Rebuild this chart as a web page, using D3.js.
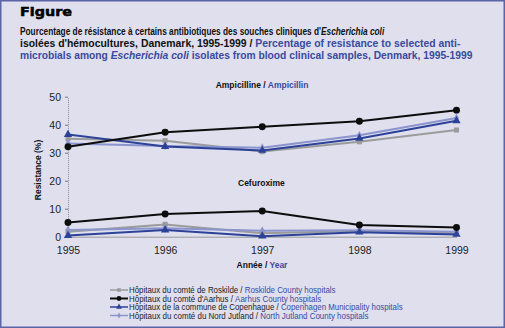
<!DOCTYPE html>
<html><head><meta charset="utf-8">
<script src="https://cdn.jsdelivr.net/npm/d3@7"></script>
<style>
html,body{margin:0;padding:0;background:#dfdfee;}
svg{display:block;}
text{font-family:"Liberation Sans",Arial,sans-serif;}
</style></head>
<body>
<svg id="c" width="505" height="328"></svg>
<script>
const years = [1995, 1996, 1997, 1998, 1999];
const yTicks = [0, 10, 20, 30, 40, 50];
const seriesNamesFr = ["Hôpitaux du comté de Roskilde / ", "Hôpitaux du comté d'Aarhus / ", "Hôpitaux de la commune de Copenhague / ", "Hôpitaux du comté du Nord Jutland / "];
const seriesNamesEn = ["Roskilde County hospitals", "Aarhus County hospitals", "Copenhagen Municipality hospitals", "North Jutland County hospitals"];
const ampRoskilde = [35.0, 34.3, 30.4, 33.9, 38.1];
const ampAarhus = [32.1, 37.3, 39.3, 41.2, 45.2];
const ampCopenhagen = [36.5, 32.2, 30.8, 35.1, 41.4];
const ampNordJutland = [33.3, 32.4, 31.8, 36.2, 42.4];
const cefRoskilde = [1.8, 4.4, 1.2, 2.0, 1.2];
const cefAarhus = [5.1, 8.1, 9.2, 4.2, 3.3];
const cefCopenhagen = [0.4, 2.4, 0.2, 1.6, 0.8];
const cefNordJutland = [2.4, 3.0, 2.1, 2.3, 1.8];

const blueText = "#3a4a9e";
const styles = [
  {color:"#9b9b9b", sym:d3.symbolSquare, size:26, width:2},
  {color:"#0d0d0d", sym:d3.symbolCircle, size:38, width:2},
  {color:"#2c4299", sym:d3.symbolTriangle, size:30, width:2},
  {color:"#8b94cc", sym:d3.symbolDiamond, size:22, width:2}
];

const svg = d3.select("#c");
svg.append("rect").attr("x",0.75).attr("y",0.75).attr("width",503.5).attr("height",326.5)
  .attr("fill","#dfdfee").attr("stroke","#5b64a6").attr("stroke-width",1.5);

function partsText(x0, y0, parts, style){
  const g = svg.append("g");
  const t = g.append("text").attr("x",0).attr("y",0);
  Object.entries(style).forEach(([k,v])=>t.style(k,v));
  parts.forEach(p=>{
    const ts = t.append("tspan").text(p.text);
    if(p.fill) ts.attr("fill",p.fill);
    if(p.italic) ts.style("font-style","italic");
  });
  return {g, w:t.node().getComputedTextLength(), x0, y0};
}
function fit(o, width){ o.g.attr("transform",`translate(${o.x0},${o.y0}) scale(${width/o.w},1)`); }

const titleStyle = {"font-weight":"bold","font-size":"11.5px","fill":"#111"};
fit(partsText(20,16,[{text:"Figure"}],{"font-family":"'DejaVu Sans',sans-serif","font-weight":"900","font-size":"12px","fill":"#000","stroke":"#000","stroke-width":"0.5"}), 52);
fit(partsText(20,35,[{text:"Pourcentage de résistance à certains antibiotiques des souches cliniques d'"},{text:"Escherichia coli",italic:true}],titleStyle), 365);
fit(partsText(20,47,[{text:"isolées d'hémocultures, Danemark, 1995-1999 / "},{text:"Percentage of resistance to selected anti-",fill:blueText}],titleStyle), 441);
fit(partsText(20,59,[{text:"microbials among ",fill:blueText},{text:"Escherichia coli",italic:true,fill:blueText},{text:" isolates from blood clinical samples, Denmark, 1995-1999",fill:blueText}],titleStyle), 453);

const x = d3.scaleLinear().domain([1995,1999]).range([68,456.5]);
const y = d3.scaleLinear().domain([0,50]).range([236.7,96.7]);

const ya = svg.append("g").attr("transform","translate(68,0)")
  .call(d3.axisLeft(y).tickValues(yTicks).tickSize(3).tickSizeOuter(0).tickPadding(4));
ya.select(".domain").attr("stroke","#8a8a9a").attr("stroke-dasharray","1,1");
ya.selectAll(".tick line").attr("stroke","#777");
ya.selectAll(".tick text").style("font-size","10.5px").attr("fill","#222").attr("dy","0.35em");

const xa = svg.append("g").attr("transform","translate(0,236.7)")
  .call(d3.axisBottom(x).tickValues(years).tickFormat(d3.format("d")).tickSize(0).tickSizeOuter(0).tickPadding(10));
xa.select(".domain").attr("stroke","#999").attr("stroke-width",1);
xa.selectAll(".tick text").style("font-size","10.5px").attr("fill","#222");

svg.append("text").attr("transform","translate(41,170) rotate(-90)").attr("text-anchor","middle")
  .style("font-weight","bold").style("font-size","8.5px").attr("fill","#111").text("Resistance (%)");
const xt = svg.append("text").attr("x",262).attr("y",268).attr("text-anchor","middle")
  .style("font-weight","bold").style("font-size","8.5px").attr("fill","#111");
xt.append("tspan").text("Année / ");
xt.append("tspan").attr("fill",blueText).text("Year");

const at = svg.append("text").attr("x",262).attr("y",88).attr("text-anchor","middle")
  .style("font-weight","bold").style("font-size","8.5px").attr("fill","#111");
at.append("tspan").text("Ampicilline / ");
at.append("tspan").attr("fill",blueText).text("Ampicillin");
svg.append("text").attr("x",238).attr("y",186)
  .style("font-weight","bold").style("font-size","8.5px").attr("fill","#111").text("Cefuroxime");

const groups = [
  [ampRoskilde, ampAarhus, ampCopenhagen, ampNordJutland],
  [cefRoskilde, cefAarhus, cefCopenhagen, cefNordJutland]
];
const order = [0,3,2,1];
const line = d3.line().x((d,i)=>x(years[i])).y(d=>y(d));
groups.forEach(g=>{
  order.forEach(k=>{
    const s = styles[k];
    svg.append("path").datum(g[k]).attr("d",line).attr("fill","none")
      .attr("stroke",s.color).attr("stroke-width",s.width).attr("stroke-linejoin","round");
    svg.selectAll(null).data(g[k]).enter().append("path")
      .attr("transform",(d,i)=>`translate(${x(years[i])},${y(d)})`)
      .attr("d",d3.symbol().type(s.sym).size(s.size)).attr("fill",s.color);
  });
});

const legY = [293, 301.5, 310, 318.5];
const legEnd = [336, 321, 403, 369];
styles.forEach((s,i)=>{
  svg.append("line").attr("x1",110).attr("x2",128).attr("y1",legY[i]-3).attr("y2",legY[i]-3)
    .attr("stroke",s.color).attr("stroke-width", i===1?2:1.5);
  svg.append("path").attr("transform",`translate(119,${legY[i]-3})`)
    .attr("d",d3.symbol().type(s.sym).size(s.size*0.5)).attr("fill",s.color);
  fit(partsText(129, legY[i], [{text:seriesNamesFr[i]},{text:seriesNamesEn[i],fill:blueText}],
    {"font-size":"8.5px","fill":"#222"}), legEnd[i]-129);
});
</script>
</body></html>
